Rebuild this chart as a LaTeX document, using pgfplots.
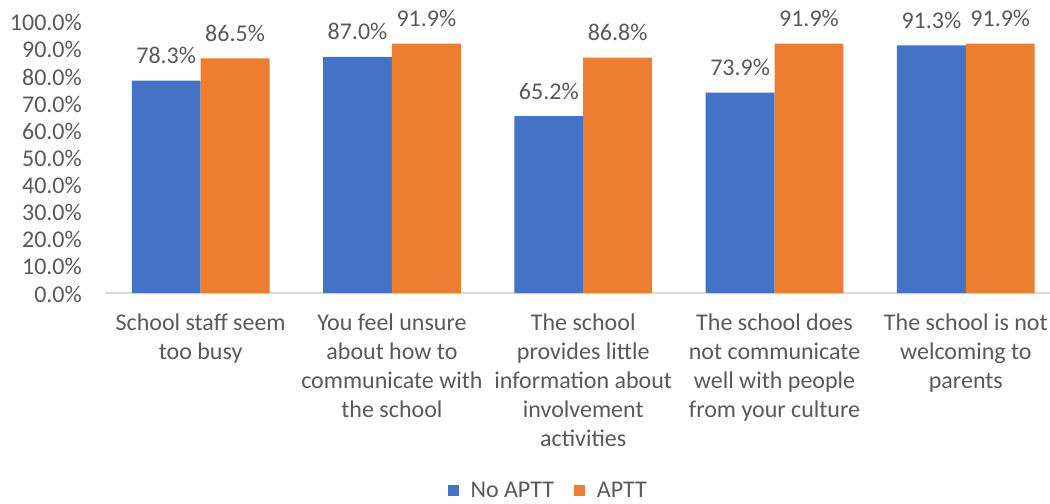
\documentclass[border=0pt]{standalone}
\usepackage{pgfplots}
\pgfplotsset{compat=1.18}
\usepackage{fontspec}
\setmainfont{Carlito}
\definecolor{barblue}{HTML}{4472C4}
\definecolor{barorange}{HTML}{ED7D31}
\definecolor{txt}{HTML}{595959}
\definecolor{axl}{HTML}{D9D9D9}
\newcommand{\cf}{\fontsize{24bp}{29bp}\selectfont}
\begin{document}
\begin{tikzpicture}
\useasboundingbox (0,0) rectangle (1050bp,504bp);
\begin{axis}[
  at={(105bp,211bp)}, anchor=south west,
  scale only axis, width=945bp, height=271.3bp,
  xmin=-0.5, xmax=4.44, ymin=0, ymax=100,
  enlargelimits=false, clip=false,
  ybar=0pt, bar width=0.36,
  axis x line*=bottom, axis y line*=left,
  y axis line style={draw=none},
  x axis line style={draw=axl, line width=1.3bp, -},
  major tick length=0pt,
  /pgf/number format/assume math mode=true,
  ytick={0,10,...,100},
  yticklabel={\pgfmathprintnumber[fixed,fixed zerofill,precision=1]{\tick}\%},
  yticklabel style={anchor=east, inner sep=0pt, xshift=-23bp, yshift=-1bp},
  xtick={0,1,2,3,4},
  xticklabels={{School staff seem\\too busy},{You feel unsure\\about how to\\communicate with\\the school},{The school\\provides little\\information about\\involvement\\activities},{The school does\\not communicate\\well with people\\from your culture},{The school is not\\welcoming to\\parents}},
  xticklabel style={anchor=north, align=center, inner sep=0pt, yshift=-21bp},
  ticklabel style={font=\cf, text=txt},
  nodes near coords={\pgfmathprintnumber[fixed,fixed zerofill,precision=1]{\pgfplotspointmeta}\%},
  every node near coord/.append style={font=\cf, text=txt, anchor=base, inner sep=0pt, yshift=17bp},
  legend style={at={(0.469,-0.728)}, anchor=center, draw=none, fill=none, legend columns=2, font=\cf, text=txt,
    /tikz/every odd column/.append style={column sep=10bp},
    /tikz/every even column/.append style={column sep=18bp}},
  legend image code/.code={\fill[#1,draw=none] (0bp,-5.5bp) rectangle (11bp,5.5bp);},
]
\addplot[fill=barblue, draw=none] coordinates {(0,78.3) (1,87.0) (2,65.2) (3,73.9) (4,91.3)};
\addplot[fill=barorange, draw=none] coordinates {(0,86.5) (1,91.9) (2,86.8) (3,91.9) (4,91.9)};
\legend{No APTT, APTT}
\end{axis}
\end{tikzpicture}
\end{document}
